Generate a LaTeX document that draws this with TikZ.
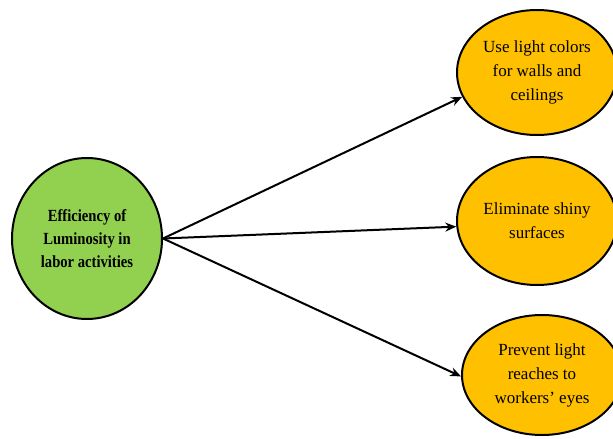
\documentclass[tikz,border=0pt]{standalone}
\usepackage{fontspec}
\setmainfont{Liberation Serif}
\newfontfamily\narrowserif[FakeStretch=0.86]{Liberation Serif}
\usepackage{xcolor}
\usepackage{tikz}
\usetikzlibrary{arrows.meta,shapes.geometric}
\definecolor{leafgreen}{HTML}{92D050}
\definecolor{amber}{HTML}{FFC000}
\tikzset{
  hub/.style={ellipse, draw, line width=2pt, fill=leafgreen, align=center,
              minimum width=150pt, minimum height=161pt, inner sep=0pt,
              font=\narrowserif\bfseries\fontsize{17}{23}\selectfont},
  measure/.style={ellipse, draw, line width=2pt, fill=amber, align=center,
                  minimum width=160pt, inner sep=0pt,
                  font=\fontsize{17}{24}\selectfont},
  flow/.style={-{Stealth[length=11pt, width=9pt]}, line width=2pt},
}

\begin{document}
\begin{tikzpicture}[x=1pt, y=-1pt]
  \useasboundingbox (0,0) rectangle (613,439);
  \node[hub] (eff) at (87,238.5) {Efficiency of\\Luminosity in\\labor activities};
  % measures on the right
  \node[measure, minimum height=125pt] (colors) at (537,72.5) {Use light colors\\for walls and\\ceilings};
  \node[measure, minimum height=128pt] (shiny) at (537,221) {Eliminate shiny\\surfaces};
  \node[measure, minimum height=120pt] (glare) at (542,375) {Prevent light\\reaches to\\workers' eyes};
  \draw[flow] (eff.east) -- (colors.198);
  \draw[flow] (eff.east) -- (shiny.184);
  \draw[flow] (eff.east) -- (glare.181);
\end{tikzpicture}
\end{document}
